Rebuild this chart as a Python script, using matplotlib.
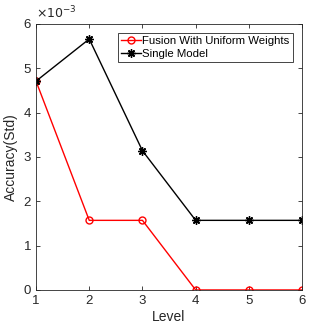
import matplotlib
matplotlib.use("Agg")
import matplotlib.pyplot as plt

plt.rcParams['font.family'] = ['Liberation Sans', 'DejaVu Sans']

# data
levels = [1, 2, 3, 4, 5, 6]
fusion_uniform = [4.71, 1.57, 1.57, 0.0, 0.0, 0.0]   # x 1e-3
single_model = [4.71, 5.66, 3.14, 1.57, 1.57, 1.57]  # x 1e-3

fig = plt.figure(figsize=(3.16, 3.28), dpi=100)
ax = fig.add_axes([0.114, 0.116, 0.842, 0.811])

ax.plot(levels, fusion_uniform, '-o', color='red', lw=1.0, ms=5,
        mfc='none', mew=1.0, label='Fusion With Uniform Weights')
# MATLAB style asterisk marker
ax.plot(levels, single_model, '-', marker=(8, 2, 0), color='black', lw=1.0,
        ms=6, mew=1.0, label='Single Model')

ax.set_xlim(1, 6)
ax.set_ylim(0, 6)
ax.set_xticks(levels)
ax.set_yticks([0, 1, 2, 3, 4, 5, 6])
ax.tick_params(direction='in', length=3, width=0.6, labelsize=9.5,
               colors='#262626', top=True, right=True)
for s in ax.spines.values():
    s.set_color('#262626')
    s.set_linewidth(0.6)

ax.set_xlabel('Level', fontsize=10, color='#262626', labelpad=2)
ax.set_ylabel('Accuracy(Std)', fontsize=10, color='#262626', labelpad=4)
ax.text(0.0, 1.01, r'$\times10^{-3}$', transform=ax.transAxes,
        fontsize=9, color='#262626', ha='left', va='bottom')

leg = ax.legend(loc='upper right', fontsize=8.2, fancybox=False,
                edgecolor='#262626', framealpha=1, borderpad=0.3,
                handlelength=1.7, handletextpad=0.15, labelspacing=0.2,
                borderaxespad=0.8)
leg.get_frame().set_linewidth(0.6)

fig.savefig('out.png', dpi=100)
